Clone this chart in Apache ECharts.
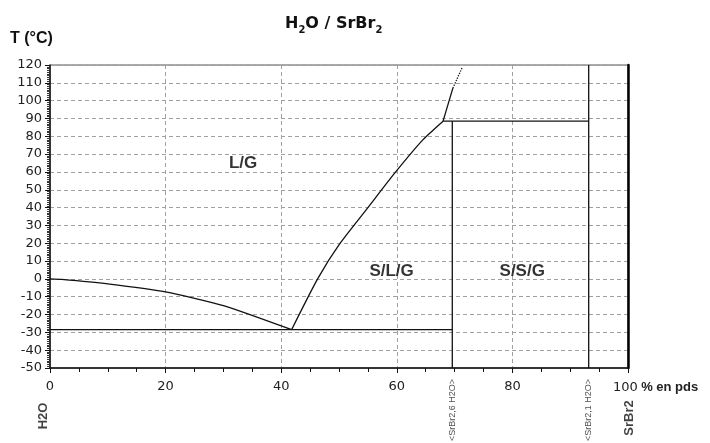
<!DOCTYPE html>
<html>
<head>
<meta charset="utf-8">
<script src="https://cdn.jsdelivr.net/npm/echarts@6/dist/echarts.min.js"></script>
<style>
    html, body { margin: 0; padding: 0; background: #fff; }
    #main { width: 710px; height: 443px; }
</style>
</head>
<body>
<div id="main"></div>
<script>
// courbes du diagramme (x = % en pds SrBr2, y = T en °C)
var iceCurve = [[0, 0], [2, -0.3], [10, -2.8], [20, -7.3], [30, -15], [41.8, -28.5]];
var solubility = [[41.8, -28.5], [46.3, 0], [50.2, 20], [55, 40], [59.8, 60], [64.5, 78], [68, 88.5]];
var upperBranch = [[68, 88.5], [69.7, 107]];
var metastable = [[69.7, 107], [71.3, 118.5]];
var eutectic = [[0, -28.5], [69.6, -28.5]];
var peritectic = [[68, 88.5], [93.2, 88.5]];
var hexahydrate = [[69.6, -50], [69.6, 88.5]];
var monohydrate = [[93.2, -50], [93.2, 120]];

var regionLabels = [[33.4, 65, 'L/G'], [59.1, 4, 'S/L/G'], [81.7, 4, 'S/S/G']];
var compounds = [[69.6, -50, '<SrBr2,6 H2O>'], [93.2, -50, '<SrBr2,1 H2O>']];
var endMembers = [[0, -50, 'H2O'], [100, -50, 'SrBr2']];

var main = echarts.init(document.getElementById('main'));

function curve(data, type, smooth) {
    return {
        type: 'line',
        data: data,
        symbol: 'none',
        showSymbol: false,
        smooth: smooth || false,
        clip: false,
        silent: true,
        z: 5,
        lineStyle: { color: '#111', width: 1.3, type: type || 'solid' }
    };
}

var dash = { color: '#a0a0a0', width: 1, type: [4, 3] };

var option = {
    animation: false,
    backgroundColor: '#fff',
    title: {
        text: '{n|H}{s|2}{n|O / SrBr}{s|2}',
        left: 285,
        top: 13,
        padding: 0,
        textStyle: {
            rich: {
                n: { fontFamily: 'DejaVu Sans', fontWeight: 'bold', fontSize: 16, lineHeight: 22, color: '#111' },
                s: { fontFamily: 'DejaVu Sans', fontWeight: 'bold', fontSize: 10, lineHeight: 12, verticalAlign: 'bottom', color: '#111' }
            }
        }
    },
    graphic: [{
        type: 'text',
        left: 10,
        top: 31,
        style: { text: 'T (°C)', font: 'bold 16px "Liberation Sans"', fill: '#111' }
    }],
    grid: {
        left: 50, right: 82, top: 65, bottom: 75,
        show: true, borderColor: '#555', borderWidth: 1, backgroundColor: 'transparent'
    },
    xAxis: {
        type: 'value',
        min: 0, max: 100, interval: 20,
        name: '{a|100} {b|% en pds}',
        nameLocation: 'end',
        nameGap: -15,
        nameTextStyle: {
            verticalAlign: 'top',
            padding: [13, 0, 0, 0],
            rich: {
                a: { fontFamily: 'DejaVu Sans', fontSize: 13, color: '#222' },
                b: { fontFamily: 'Liberation Sans', fontWeight: 'bold', fontSize: 13, color: '#222' }
            }
        },
        axisLine: { onZero: false, lineStyle: { color: '#111', width: 1.5 } },
        axisTick: { length: 5, lineStyle: { color: '#111' } },
        minorTick: { show: true, splitNumber: 4, length: 4, lineStyle: { color: '#111' } },
        axisLabel: { showMaxLabel: false, margin: 12, fontFamily: 'DejaVu Sans', fontSize: 13, color: '#222' },
        splitLine: { show: true, lineStyle: dash }
    },
    yAxis: [{
        type: 'value',
        min: -50, max: 120, interval: 10,
        axisLine: { onZero: false, lineStyle: { color: '#111', width: 1.5 } },
        axisTick: { length: 5, lineStyle: { color: '#111' } },
        minorTick: { show: true, splitNumber: 10, length: 3, lineStyle: { color: '#333' } },
        axisLabel: { margin: 8, fontFamily: 'DejaVu Sans', fontSize: 13, color: '#222' },
        splitLine: { show: true, lineStyle: dash }
    }, {
        type: 'value',
        position: 'right',
        min: -50, max: 120, interval: 10,
        axisLine: { show: true, onZero: false, lineStyle: { color: '#000', width: 2.5 } },
        axisTick: { show: false },
        axisLabel: { show: false },
        splitLine: { show: false }
    }],
    series: [
        curve(iceCurve, 'solid', 0.2),
        curve(solubility, 'solid', 0.2),
        curve(upperBranch),
        curve(metastable, 'dotted'),
        curve(eutectic),
        curve(peritectic),
        curve(hexahydrate),
        curve(monohydrate),
        {
            type: 'scatter',
            data: regionLabels,
            symbolSize: 1,
            clip: false,
            itemStyle: { color: 'rgba(0,0,0,0)' },
            label: {
                show: true,
                position: 'inside',
                formatter: function (p) { return p.data[2]; },
                fontFamily: 'Liberation Sans',
                fontWeight: 'bold',
                fontSize: 17,
                color: '#000'
            }
        },
        {
            type: 'scatter',
            data: compounds,
            symbolSize: 0,
            clip: false,
            itemStyle: { color: 'rgba(0,0,0,0)' },
            label: {
                show: true,
                position: [0, 11],
                rotate: 90,
                align: 'right',
                verticalAlign: 'middle',
                formatter: function (p) { return p.data[2]; },
                fontFamily: 'Liberation Sans',
                fontSize: 9,
                color: '#222'
            }
        },
        {
            type: 'scatter',
            data: [
                { value: endMembers[0], label: { position: [-7, 48] } },
                { value: endMembers[1], label: { position: [1, 50] } }
            ],
            symbolSize: 0,
            clip: false,
            itemStyle: { color: 'rgba(0,0,0,0)' },
            label: {
                show: true,
                rotate: 90,
                align: 'center',
                verticalAlign: 'middle',
                formatter: function (p) { return p.value[2]; },
                fontFamily: 'Liberation Sans',
                fontWeight: 'bold',
                fontSize: 13,
                color: '#111'
            }
        }
    ]
};

main.setOption(option);
</script>
</body>
</html>
